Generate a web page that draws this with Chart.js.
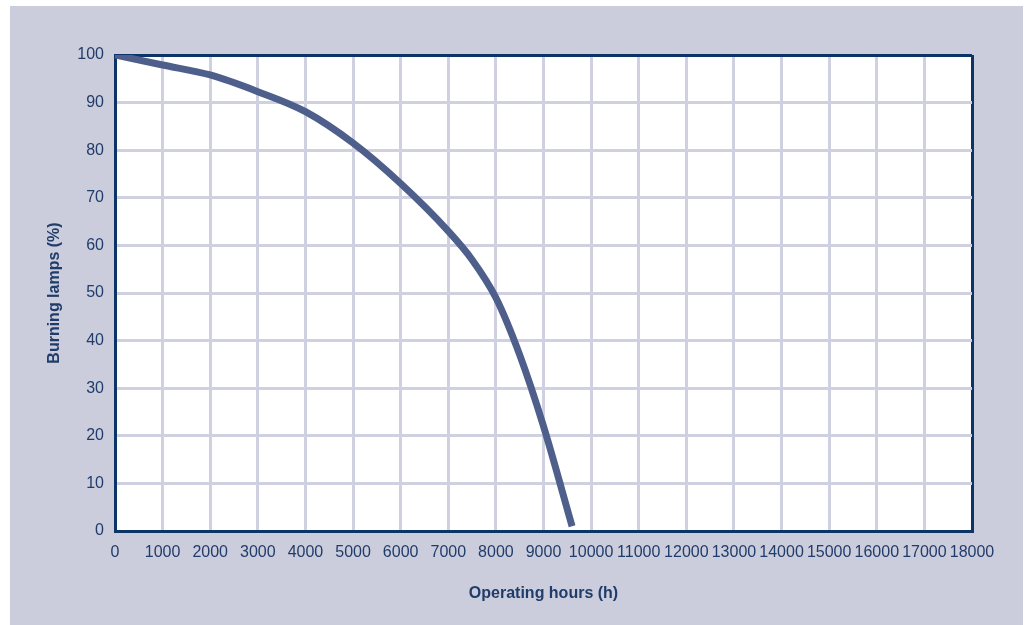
<!DOCTYPE html>
<html>
<head>
<meta charset="utf-8">
<script src="https://cdn.jsdelivr.net/npm/chart.js@4"></script>
<style>
  body { margin: 0; background: #ffffff; }
  #wrap { position: absolute; left: 10px; top: 6px; width: 1013px; height: 619px; background: #cbcddc; }
</style>
</head>
<body>
<div id="wrap"><canvas id="myChart" width="1013" height="619"></canvas></div>
<script>
// operating hours (h) and share of lamps still burning (%)
const hours = [0, 1000, 2000, 3000, 4000, 5000, 6000, 7000, 7500, 8000, 8500, 9000, 9600]
const burning = [100, 97.9, 95.8, 92.3, 88.1, 81.5, 73, 63, 57, 49, 37, 22, 1]

const navy = '#0c3466'
const gridGray = '#d0d1e0'
const textColor = '#203c6a'
const tickFont = { family: "'Liberation Sans Narrow', 'Liberation Sans', Arial, sans-serif", size: 16 }
const titleFont = { family: "'Liberation Sans', Arial, sans-serif", size: 16, weight: 'bold' }

// white plot area on the lavender card
const plotBackground = {
    id: 'plotBackground',
    beforeDraw(chart) {
        const { ctx, chartArea: a } = chart
        ctx.save()
        ctx.fillStyle = '#ffffff'
        ctx.fillRect(a.left, a.top, a.right - a.left, a.bottom - a.top)
        ctx.restore()
    }
}

const ctx = document.getElementById('myChart')
const myChart = new Chart(ctx, {
    type: 'line',
    data: {
        datasets: [
            {
                label: 'Burning lamps',
                data: hours.map((h, i) => ({ x: h, y: burning[i] })),
                borderColor: '#4f5f8c',
                borderWidth: 7,
                borderCapStyle: 'butt',
                pointRadius: 0,
                tension: 0.4,
                cubicInterpolationMode: 'monotone',
                fill: false
            }
        ]
    },
    plugins: [plotBackground],
    options: {
        responsive: false,
        animation: false,
        layout: { padding: { top: 49, right: 51, left: 0, bottom: 0 } },
        plugins: {
            legend: { display: false },
            tooltip: { enabled: false }
        },
        scales: {
            x: {
                type: 'linear',
                min: 0,
                max: 18000,
                afterFit: (scale) => { scale.height = 94 },
                ticks: {
                    stepSize: 1000,
                    autoSkip: false,
                    maxRotation: 0,
                    padding: 12,
                    color: textColor,
                    font: tickFont,
                    callback: (v) => String(v)
                },
                grid: {
                    drawTicks: false,
                    color: (c) => c.tick && c.tick.value === 18000 ? navy : gridGray,
                    lineWidth: 3
                },
                border: { color: navy, width: 3 },
                title: {
                    display: true,
                    text: 'Operating hours (h)',
                    color: textColor,
                    font: titleFont,
                    padding: { top: 0, bottom: 22 }
                }
            },
            y: {
                min: 0,
                max: 100,
                afterFit: (scale) => { scale.width = 105 },
                ticks: {
                    stepSize: 10,
                    padding: 11,
                    color: textColor,
                    font: tickFont,
                    callback: (v) => String(v)
                },
                grid: {
                    drawTicks: false,
                    color: (c) => c.tick && c.tick.value === 100 ? navy : gridGray,
                    lineWidth: 3
                },
                border: { color: navy, width: 3 },
                title: {
                    display: true,
                    text: 'Burning lamps (%)',
                    color: textColor,
                    font: titleFont,
                    padding: { top: 35, bottom: 0 }
                }
            }
        }
    }
})
</script>
</body>
</html>
